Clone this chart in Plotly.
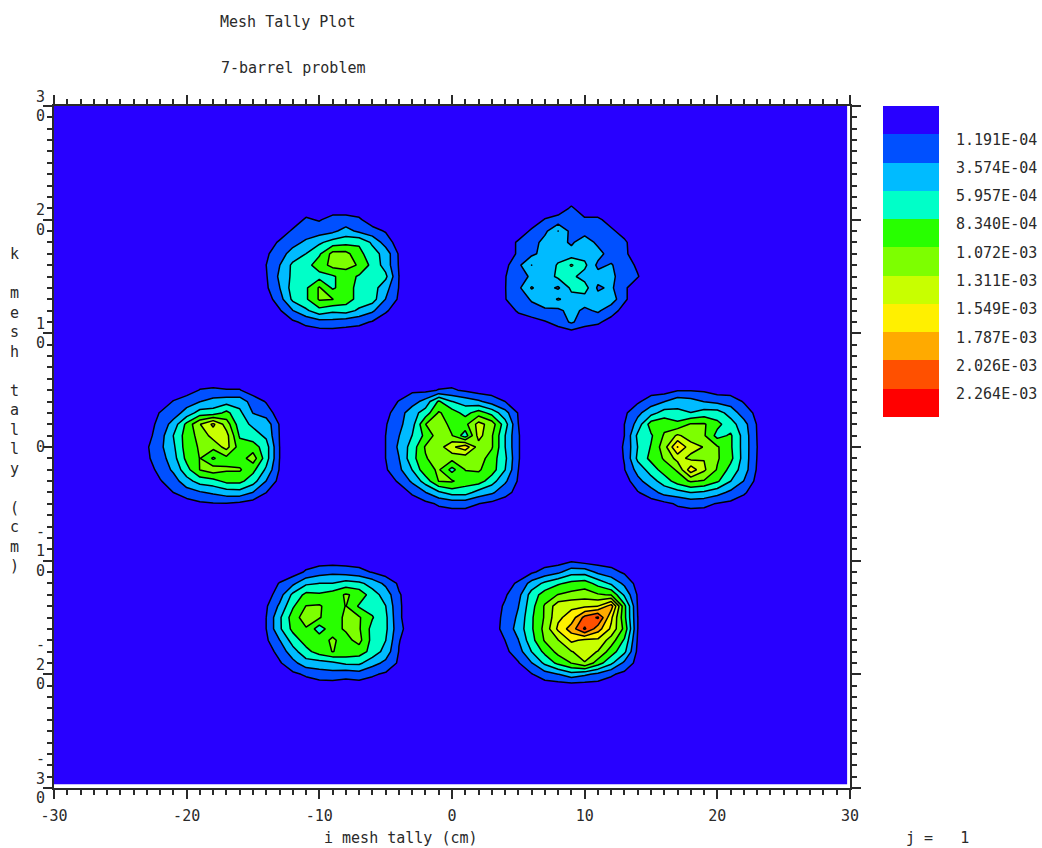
import plotly.graph_objects as go
import numpy as np

FONT = "DejaVu Sans Mono"
# Contour levels (tally per cm3) and band colours
levels = [1.191e-4, 3.574e-4, 5.957e-4, 8.340e-4, 1.072e-3, 1.311e-3, 1.549e-3, 1.787e-3, 2.026e-3, 2.264e-3]
level_labels = ["1.191E-04", "3.574E-04", "5.957E-04", "8.340E-04", "1.072E-03", "1.311E-03",
                "1.549E-03", "1.787E-03", "2.026E-03", "2.264E-03"]
band_colors = ["#2800FF", "#0050FF", "#00BBFF", "#00FFC8", "#28FF00", "#7DFF00",
               "#C8FF00", "#FFF000", "#FFAA00", "#FF5000", "#FF0000"]
band_index = [0, 1, 2, 3, 4, 5, 6, 7, 8, 9, 10]

# Grid node coordinates (cm)
x_nodes = list(range(-30, 30)) + [29.8]
y_nodes = [-29.7] + list(range(-29, 31))

# Barrel tallies in 1e-4 units: (first column X, top row Y, rows from the top down)
top_left_x, top_left_y = -14, 20
top_left = [
    [0, 0, 0, 1.5, 1, 2, 2, 1.5, 0, 0, 0],
    [0, 0, 1.5, 2.4, 2.4, 3, 4.5, 3, 2, 1, 0],
    [0, 1.5, 2.8, 4, 5.5, 7, 7.5, 8, 5.5, 2.5, 0],
    [0.8, 2.6, 4.5, 6, 8, 11.5, 11.5, 9, 7, 5, 0.9],
    [1.2, 3.5, 6.5, 7.5, 9.5, 11.5, 11.5, 10.5, 7.5, 5, 1],
    [1, 4, 6.5, 7.5, 7.5, 8, 9.5, 8, 7.5, 6.5, 1.2],
    [0.8, 3.5, 7, 8, 11, 8, 9.5, 7.5, 7, 4.5, 1.1],
    [0, 2.5, 6.5, 8, 11, 10.8, 9.5, 7.5, 7, 3.5, 0.8],
    [0, 0.9, 3.5, 5.5, 7.5, 6.5, 7, 5.5, 4, 1.5, 0],
    [0, 0, 0.8, 1.8, 2.6, 2.8, 2.2, 1.8, 1, 0, 0],
]
top_right_x, top_right_y = 4, 21
top_right = [
    [0, 0, 0, 0, 0, 1.5, 0, 0, 0, 0, 0],
    [0, 0, 0, 1.3, 2, 2.4, 1.5, 1.5, 0.5, 0, 0],
    [0, 0, 1.5, 3, 6, 2.8, 2.5, 2, 1.5, 0.5, 0],
    [0, 1.5, 2.4, 4.5, 4.5, 3.2, 5, 3, 2.4, 1.5, 0],
    [0, 1.5, 3, 4.5, 5, 4.5, 5, 4.5, 2.4, 1.5, 0.3],
    [0.5, 3, 6, 4.5, 6.2, 8.6, 6.5, 3, 3.8, 2, 0.9],
    [1.1, 2.4, 4, 4.5, 6.5, 6.5, 5, 4.5, 4.5, 1.5, 1.3],
    [1.1, 3, 6.2, 4.5, 3.2, 6.5, 7, 3.2, 4, 1.5, 0],
    [1.1, 2.4, 3.8, 4.5, 6.2, 5, 5, 4.5, 5, 1.5, 0],
    [0, 1.5, 2.8, 3.3, 3, 4.5, 3, 4, 2, 0.5, 0],
    [0, 0, 0, 1, 2, 4, 2, 1.5, 0.5, 0, 0],
]
mid_left_x, mid_left_y = -23, 5
mid_left = [
    [0, 0, 0, 0, 1.3, 1.5, 1.3, 1.3, 0, 0, 0],
    [0, 0, 1.3, 2.5, 3.5, 4.5, 5, 5, 2.5, 1, 0],
    [0, 1.3, 2.4, 4.5, 7, 7, 9, 6.5, 3.5, 2.4, 0],
    [0, 2, 4.5, 9, 13, 16, 12, 7, 5.5, 5, 1],
    [0.3, 2.5, 6, 9.5, 11.5, 14, 14, 8, 7, 5.5, 1.1],
    [0.9, 3, 5.5, 9.5, 11, 11.5, 14, 9.5, 9.5, 7, 1.2],
    [0.8, 2.4, 5, 9, 10.8, 8, 10, 9.5, 12, 7, 1.2],
    [0, 2, 4, 7.5, 10.8, 12, 11, 11, 9, 5.5, 1],
    [0, 1, 2.5, 5, 7, 7.5, 9, 9, 7, 3.5, 0.4],
    [0, 0, 1.2, 2.5, 3.3, 4, 4.8, 5, 3.5, 1.2, 0],
    [0, 0, 0, 0, 0.7, 1, 1, 0.6, 0, 0, 0],
]
center_x, center_y = -5, 5
center = [
    [0, 0, 0.8, 0.6, 1.3, 1.5, 0.8, 0, 0, 0, 0, 0],
    [0, 1.3, 2.5, 4.5, 8.7, 6, 5, 4, 2.5, 1.2, 0, 0],
    [0.5, 2.4, 5, 7, 11, 9.5, 7.5, 9.5, 7.5, 4.5, 1, 0],
    [1, 3, 5, 10.7, 12, 10, 10, 14, 12, 7, 1.2, 0],
    [1.2, 3.5, 6, 9, 12, 10.8, 7, 14, 11, 6, 1.3, 0],
    [1.2, 4, 7, 11, 12, 15, 17, 12, 11, 6, 1.3, 0],
    [1.2, 3.5, 7.5, 10.5, 12, 11.5, 11.5, 12, 9.5, 6.5, 1.3, 0],
    [0.9, 3, 6, 10, 11, 7.5, 10.8, 11, 9.5, 6, 1.2, 0],
    [0, 1.5, 4, 7, 10.8, 11, 9.5, 9.5, 7, 4, 0.9, 0],
    [0, 0, 1.5, 3.5, 5.5, 7, 7, 5, 4, 2, 0.4, 0],
    [0, 0, 0, 0.5, 1.5, 2, 2, 1.2, 0.5, 0, 0, 0],
]
mid_right_x, mid_right_y = 13, 5
mid_right = [
    [0, 0, 0, 0, 1, 1, 0.8, 0, 0, 0, 0],
    [0, 0.8, 2.5, 3.5, 5, 4.5, 3.5, 3, 2.5, 1, 0],
    [0.7, 3, 5, 7, 6.5, 6, 7, 7, 5, 2.4, 0.6],
    [1.2, 4.5, 9.5, 10, 9, 11, 11, 9, 7, 4.5, 1],
    [1.2, 6.5, 8, 11, 13.5, 12, 11, 7.5, 8.7, 5, 1.1],
    [1.4, 6, 8.5, 12, 18, 14, 13, 11, 8.7, 5, 1.2],
    [1.3, 6.5, 9, 11, 14, 12.5, 13, 11, 9, 5, 1.1],
    [1.1, 4.5, 7, 9.5, 11, 17, 13.5, 10.5, 7.5, 4.8, 0.9],
    [0, 2.8, 5, 7, 9.5, 11, 10.5, 8.7, 6, 3.5, 0.4],
    [0, 1, 2.5, 4.5, 5, 6, 5.5, 4.5, 3, 1.5, 0],
    [0, 0, 0, 0.5, 1.5, 2, 1.8, 1, 0.6, 0, 0],
]
low_left_x, low_left_y = -14, -11
low_left = [
    [0, 0, 0, 1.5, 2.5, 3, 2.5, 2, 1, 0, 0],
    [0, 1.3, 3, 5.5, 6, 6, 7, 6.5, 5, 3, 0.8],
    [0, 2.5, 6.5, 9, 8.7, 9.5, 11, 10, 7, 5, 1.4],
    [0.9, 4, 8, 10.8, 11, 9.5, 10.8, 8, 7.5, 6, 1.5],
    [1.2, 5.5, 9.5, 12, 11, 8.7, 11.5, 11, 8.5, 6.5, 1.5],
    [1.2, 5.5, 9, 10.5, 7, 10, 11, 11, 7.5, 6.5, 1.8],
    [0.8, 3.5, 7, 9.5, 10, 11, 10, 11.5, 7.5, 6, 1.3],
    [0, 2, 5, 7.5, 9.5, 10.8, 10, 9.5, 7.5, 5, 1.1],
    [0, 0.9, 2.8, 5, 5, 5.5, 6.5, 6.5, 4.5, 3, 0.8],
    [0, 0, 0.7, 1.5, 2.4, 2.6, 2, 2.5, 1.5, 0.8, 0],
]
low_right_x, low_right_y = 4, -10
low_right = [
    [0, 0, 0, 0, 0, 0.8, 0, 0, 0, 0, 0],
    [0, 0, 0.8, 2, 3, 5, 5, 3, 2, 0.8, 0],
    [0.4, 1.5, 4.5, 6.5, 8, 9, 9.5, 7.5, 5.5, 3, 0.3],
    [0.9, 2.8, 7, 9.5, 10.8, 11.5, 12, 11, 10.5, 5.5, 0.9],
    [1.5, 3.5, 7.5, 11, 14.5, 15, 15, 15.5, 19, 9, 1],
    [1.8, 4, 8, 11, 15, 16.5, 21, 23, 16, 9, 1.2],
    [2, 4.5, 8, 11.5, 16, 19, 23, 19, 15, 10, 1.2],
    [1.2, 3.5, 7.5, 11, 13, 16, 15, 15, 12, 8, 0.9],
    [0.6, 2.5, 6, 9, 11.5, 13, 14, 13, 9.5, 6.5, 0.6],
    [0, 1, 3.5, 6.5, 9, 10.8, 13, 9.5, 6.5, 3, 0.3],
    [0, 0, 1, 2.5, 3.5, 5, 4, 3, 1.5, 0.5, 0],
]

barrels = [
    (top_left_x, top_left_y, top_left),
    (top_right_x, top_right_y, top_right),
    (mid_left_x, mid_left_y, mid_left),
    (center_x, center_y, center),
    (mid_right_x, mid_right_y, mid_right),
    (low_left_x, low_left_y, low_left),
    (low_right_x, low_right_y, low_right),
]

z = np.zeros((len(y_nodes), len(x_nodes)))
for bx, by, rows in barrels:
    for r, row in enumerate(rows):
        for c, v in enumerate(row):
            z[y_nodes.index(by - r), x_nodes.index(bx + c)] = v * 1e-4

x_ticks = [-30, -20, -10, 0, 10, 20, 30]
x_tick_text = ["-30", "-20", "-10", "0", "10", "20", "30"]
y_ticks = [-30, -20, -10, 0, 10, 20, 30]
y_tick_text = ["-<br>3<br>0<br>&nbsp;", "-<br>2<br>0<br>&nbsp;", "-<br>1<br>0<br>&nbsp;", "0",
               "1<br>0", "2<br>0", "3<br>0"]

n = len(band_colors)
colorscale = []
for i, col in enumerate(band_colors):
    colorscale += [[i / n, col], [(i + 1) / n, col]]
step = levels[1] - levels[0]

fig = go.Figure()
fig.add_trace(go.Contour(
    x=x_nodes, y=y_nodes, z=z,
    zmin=levels[0] - step, zmax=levels[-1] + step,
    colorscale=colorscale,
    autocontour=False,
    contours=dict(start=levels[0], end=levels[-1], size=step, coloring="fill"),
    line=dict(color="black", width=1.5, smoothing=0),
    showscale=False,
    hoverinfo="skip",
))
# Legend column: one cell per band, drawn on its own axes
fig.add_trace(go.Heatmap(
    x=[0], y=band_index, z=[[b] for b in band_index], xaxis="x2", yaxis="y2",
    zmin=-0.5, zmax=10.5, colorscale=colorscale, showscale=False, hoverinfo="skip",
))

ink = "#2a2a2a"
tick_font = dict(family=FONT, size=15, color=ink)
axis_common = dict(
    range=[-30, 30], showgrid=False, zeroline=False, showline=True, linecolor=ink,
    linewidth=2, mirror="ticks", ticks="outside", ticklen=9, tickwidth=1.5, tickcolor=ink,
    tickfont=tick_font, tickmode="array", automargin=False,
    minor=dict(dtick=1, ticks="outside", ticklen=5, tickwidth=1.5, tickcolor=ink, showgrid=False),
)

# Plot area in page pixels: x 54-850 for the main axes, legend to 1042
PLOT_W, PLOT_H = 988, 682
fig.update_layout(
    xaxis=dict(**axis_common, domain=[0, 796 / PLOT_W], tickvals=x_ticks, ticktext=x_tick_text,
               ticklabelstandoff=4),
    yaxis=dict(**axis_common, domain=[0, 1], tickvals=y_ticks, ticktext=y_tick_text,
               ticklabelstandoff=-5),
    xaxis2=dict(domain=[(883 - 54) / PLOT_W, (939 - 54) / PLOT_W], visible=False, anchor="y2",
                range=[-0.5, 0.5], automargin=False),
    yaxis2=dict(domain=[1 - 311 / 682, 1], anchor="x2", side="right", range=[10.5, -0.5],
                tickmode="array", tickvals=[i + 0.5 + 0.18 for i in range(10)], ticktext=level_labels,
                ticks="", showgrid=False, zeroline=False, showline=False, tickfont=tick_font,
                ticklabelstandoff=16, automargin=False),
)

ann = []
def note(text, px, py, xanchor="left", yanchor="middle"):
    ann.append(dict(text=text, x=(px - 54) / PLOT_W, y=1 - (py - 106) / 682, xref="paper", yref="paper",
                    showarrow=False, xanchor=xanchor, yanchor=yanchor, align="center",
                    font=tick_font, borderpad=0))

note("7-barrel problem", 220, 68)
note("i mesh tally (cm)", 401, 838, xanchor="center")
note("j =   1", 905, 838)
note("<br>".join(ch if ch != " " else "&nbsp;" for ch in "k mesh tally (cm)"), 14, 410, xanchor="center")

fig.update_layout(
    width=1042, height=848, autosize=False,
    margin=dict(l=54, r=0, t=106, b=60, pad=0, autoexpand=False),
    paper_bgcolor="white", plot_bgcolor="white",
    title=dict(text="Mesh Tally Plot", x=220 / 1042, xanchor="left", xref="container",
               y=1 - 22 / 848, yanchor="middle", yref="container", font=tick_font),
    font=dict(family=FONT, size=15),
    annotations=ann,
)
fig.write_html("out.html", config=dict(displayModeBar=False),
               post_script="document.body.style.margin='0';document.documentElement.style.overflow='hidden';")
